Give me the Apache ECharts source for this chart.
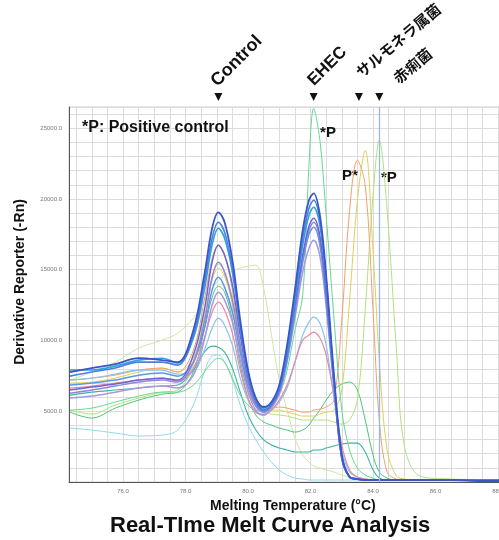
<!DOCTYPE html>
<html><head><meta charset="utf-8">
<script src="https://cdn.jsdelivr.net/npm/echarts@6/dist/echarts.min.js"></script>
<style>html,body{margin:0;padding:0;background:#fff}#c{width:499px;height:540px}</style>
</head><body><div id="c"></div>
<script>
// ---- data ----
const temps = [74.3, 75.0, 75.75, 76.5, 77.25, 77.75, 78.25, 78.6, 78.85, 79.05, 79.25, 79.5, 79.75, 80.0, 80.25, 80.5, 80.75, 81.0, 81.25, 81.5, 81.75, 81.95, 82.1, 82.3, 82.5, 82.75, 83.0, 83.25, 83.5, 83.75, 84.0, 84.2, 84.45, 84.75, 85.0, 85.5, 86.5, 87.5, 88.6];

const xTickValues = [76, 78, 80, 82, 84, 86, 88];
const xGridValues = [74.5, 75, 75.5, 76, 76.5, 77, 77.5, 78, 78.5, 79, 79.5, 80, 80.5, 81, 81.5, 82, 82.5, 83, 83.5, 84, 84.5, 85, 85.5, 86, 86.5, 87, 87.5, 88, 88.5];
const yTickValues = [5000, 10000, 15000, 20000, 25000];

const b1 = [7770, 8050, 8330, 8750, 8610, 8470, 10730, 14610, 17930, 19060, 18360, 15670, 11440, 7910, 5930, 5300, 5650, 6850, 9670, 13560, 17790, 19910, 20400, 18850, 14610, 7550, 1910, 350, 210, 140, 140, 140, 140, 140, 140, 140, 140, 70, 70];
const b2 = [7480, 7770, 8050, 8470, 8470, 8260, 10380, 14050, 17230, 18360, 17650, 15110, 11080, 7770, 5790, 5080, 5440, 6640, 9320, 13130, 17230, 19340, 19910, 18500, 14260, 7340, 1840, 350, 210, 140, 140, 140, 140, 140, 140, 140, 140, 140, 140];
const b3 = [7910, 7910, 8190, 8610, 8750, 8400, 10170, 13560, 16730, 17930, 17230, 14830, 10870, 7620, 5790, 5220, 5580, 6640, 9180, 12850, 16730, 18850, 19420, 18140, 14050, 7200, 1840, 350, 210, 140, 140, 140, 140, 140, 140, 140, 140, 140, 140];
const b4 = [6500, 6710, 6920, 7200, 7340, 7200, 8970, 12140, 15530, 16730, 16030, 13910, 10380, 7340, 5650, 5080, 5440, 6500, 8970, 12500, 16030, 18070, 18640, 17370, 13410, 7060, 1690, 350, 210, 140, 140, 140, 140, 140, 140, 140, 140, 140, 140];
const b5 = [6280, 6500, 6780, 7060, 7200, 7060, 8470, 11300, 14470, 15530, 14830, 12850, 9670, 6990, 5440, 4940, 5370, 6500, 8970, 12280, 15810, 17790, 18360, 17090, 13130, 6920, 1690, 350, 210, 140, 140, 140, 140, 140, 140, 140, 140, 140, 140];
const b6 = [6850, 6990, 7200, 7550, 7700, 7480, 8470, 10870, 13560, 14470, 13770, 12000, 9180, 6780, 5370, 4940, 5370, 6350, 8610, 12000, 15530, 17510, 18000, 16730, 12850, 6780, 1690, 350, 210, 140, 140, 140, 140, 140, 140, 140, 140, 140, 140];
const b7 = [5930, 6070, 6350, 6640, 6780, 6640, 7550, 10030, 12500, 13410, 12850, 11300, 8610, 6350, 5080, 4730, 5220, 6210, 8470, 11580, 14830, 16520, 17090, 15960, 12430, 6640, 1690, 350, 210, 140, 140, 140, 140, 140, 140, 140, 140, 140, 140];
const pink = [6640, 6780, 6990, 7200, 7340, 7130, 8050, 10170, 12000, 12710, 12140, 10520, 7910, 5930, 4940, 4730, 5080, 5790, 6850, 8470, 10030, 10380, 10590, 10170, 8970, 6140, 2610, 850, 350, 210, 140, 140, 140, 140, 140, 140, 140, 140, 140];
const lightBlue = [7200, 7340, 7620, 7910, 7910, 7620, 7770, 9320, 10870, 11580, 11080, 9670, 7340, 5790, 4940, 4800, 5080, 5650, 6640, 8470, 10380, 11300, 11650, 11230, 9670, 5930, 2260, 710, 350, 210, 140, 140, 140, 140, 140, 140, 140, 140, 140];
const orange = [7200, 7340, 7550, 7910, 8050, 7770, 9320, 12850, 15810, 16730, 16030, 13560, 9670, 6500, 5440, 5220, 5220, 5300, 5220, 5080, 4940, 4940, 5080, 5150, 5300, 5790, 11440, 19200, 22730, 20970, 12140, 4380, 710, 210, 140, 140, 140, 140, 140];
const yellow = [6990, 7060, 7340, 7770, 8050, 7770, 8750, 11580, 14260, 15110, 14540, 12500, 9180, 6350, 5370, 5080, 5080, 5080, 4940, 4800, 4660, 4660, 4660, 4800, 4940, 5080, 6500, 12850, 19910, 23440, 16380, 8610, 2260, 420, 210, 140, 140, 140, 140];
const greenTall = [5080, 5220, 5650, 6070, 6350, 6350, 6850, 7770, 8470, 8750, 8470, 7340, 6140, 5440, 5080, 5080, 5440, 6140, 7910, 10730, 13200, 22380, 26400, 24150, 18850, 11580, 5080, 2260, 990, 490, 280, 140, 140, 140, 140, 140, 140, 140, 140];
const hump = [7200, 7770, 8470, 9460, 10030, 10520, 11580, 12850, 13700, 14260, 14610, 14900, 15110, 15250, 15320, 13700, 10380, 7200, 5080, 3110, 1910, 1410, 1130, 990, 850, 710, 490, 350, 280, 210, 140, 140, 140, 140, 140, 140, 140, 140, 140];
const greenShig = [5080, 4800, 5440, 5930, 6350, 6500, 8260, 11580, 14400, 15390, 14830, 12710, 9320, 6640, 5440, 4940, 4800, 4730, 4660, 4520, 4380, 4380, 4380, 4380, 4380, 4240, 4090, 4380, 5790, 12140, 20260, 24150, 19200, 9320, 2610, 420, 210, 140, 140];
const greenMid = [4940, 4520, 5220, 5790, 6210, 6350, 7770, 10730, 13060, 13840, 13410, 11440, 8260, 5930, 4730, 4240, 4020, 3810, 3670, 3530, 3670, 4020, 4520, 5080, 5790, 6500, 6920, 7060, 6500, 4380, 1910, 710, 280, 140, 140, 140, 140, 140, 140];
const teal = [6140, 6350, 6500, 6640, 6780, 6850, 7910, 9180, 9600, 9530, 9180, 8050, 6350, 4730, 3670, 2970, 2610, 2400, 2260, 2120, 2120, 2120, 2260, 2260, 2400, 2540, 2680, 2750, 2750, 2120, 850, 280, 140, 140, 140, 140, 140, 140, 140];
const cyan = [3810, 3670, 3460, 3250, 3320, 3670, 5440, 7770, 8900, 8970, 8470, 7200, 5440, 4020, 2970, 2120, 1410, 850, 490, 280, 210, 140, 140, 140, 140, 140, 140, 140, 140, 140, 140, 140, 140, 140, 140, 140, 140, 140, 140];

// annotations
const markerNames = ['Control', 'EHEC', 'サルモネラ属菌', '赤痢菌'];
const markerTemps = [79.05, 82.1, 83.55, 84.2];
const pLabelTexts = ['*P', 'P*', '*P'];
const pLabelTemps = [82.56, 83.26, 84.51];
const pLabelValues = [24640, 21600, 21460];

// ---- layout / style ----
const X_MIN = 74.27, X_MAX = 88.6, Y_MAX = 26500;
const FONT = '"Liberation Sans", Arial, sans-serif';
const JFONT = '"Noto Sans CJK JP", sans-serif';
const labelLayout = [ // dx, dy from marker/top, rotation deg, font
  [2, -17, 45, 'bold 18px ' + FONT],
  [3, -18, 45, 'bold 17px ' + FONT],
  [4, -27, 40, 'bold 15px ' + JFONT],
  [21, -21, 40, 'bold 15px ' + JFONT]
];

const seriesDefs = [
  ['hump', hump, '#cfe6a2', 1],
  ['cyan', cyan, '#8fdaec', 1],
  ['teal', teal, '#3cb4a4', 1.1],
  ['greenMid', greenMid, '#4cc47a', 1],
  ['greenShig', greenShig, '#b2e27e', 1],
  ['yellow', yellow, '#dcd05a', 1],
  ['orange', orange, '#f2a06a', 1],
  ['greenTall', greenTall, '#66d890', 1],
  ['lightBlue', lightBlue, '#86c4ee', 1.2],
  ['pink', pink, '#e48aa6', 1.2],
  ['b7', b7, '#a898e0', 1.5],
  ['b6', b6, '#5c96e6', 1.5],
  ['b5', b5, '#9484dc', 1.5],
  ['b4', b4, '#6a66d0', 1.5],
  ['b3', b3, '#2aa6dc', 1.6],
  ['b2', b2, '#4e7ee0', 1.6],
  ['b1', b1, '#3a56c8', 1.8]
];

const series = seriesDefs.map(([name, vals, color, w]) => ({
  name, type: 'line', smooth: 0.35, symbol: 'none',
  lineStyle: { color, width: w }, itemStyle: { color },
  data: temps.map((t, i) => [t, vals[i]]),
  silent: true
}));
// vertical reference line at Shigella temperature
series.push({
  type: 'line', data: [], silent: true,
  markLine: { silent: true, symbol: 'none', label: { show: false },
    lineStyle: { color: '#9bb8ec', width: 1.3, type: 'solid' },
    data: [{ xAxis: markerTemps[3] }] }
});

const option = {
  animation: false,
  backgroundColor: '#fff',
  title: {
    text: 'Real-TIme Melt Curve Analysis', left: 110, top: 515, padding: 0,
    textStyle: { fontSize: 22, fontWeight: 'bold', color: '#111', fontFamily: FONT }
  },
  grid: { left: 69, top: 107, width: 447.75, height: 375, show: true, borderColor: '#cfcfcf', borderWidth: 1,
    outerBoundsMode: 'none', containLabel: false },
  xAxis: {
    type: 'value', min: X_MIN, max: X_MAX,
    name: 'Melting Temperature (°C)', nameLocation: 'middle', nameGap: 16,
    nameTextStyle: { fontSize: 14, fontWeight: 'bold', color: '#111', fontFamily: FONT },
    axisLine: { show: true, onZero: false, lineStyle: { color: '#555', width: 1 } },
    axisTick: { show: false, customValues: xGridValues },
    axisLabel: { customValues: xTickValues, formatter: v => v.toFixed(1), fontSize: 6, color: '#777', margin: 6, fontFamily: FONT },
    splitLine: { show: true, lineStyle: { color: '#dcdcdc', width: 1 } }
  },
  yAxis: {
    type: 'value', min: 0, max: Y_MAX, interval: 1000,
    name: 'Derivative Reporter (-Rn)', nameLocation: 'middle', nameGap: 42,
    nameTextStyle: { fontSize: 14, fontWeight: 'bold', color: '#111', fontFamily: FONT, padding: [0, 0, 0, 25] },
    axisLine: { show: true, lineStyle: { color: '#555', width: 1 } },
    axisTick: { show: false },
    axisLabel: { formatter: v => (yTickValues.indexOf(v) >= 0 ? v.toFixed(1) : ''), fontSize: 6, color: '#777', margin: 7, fontFamily: FONT },
    splitLine: { show: true, lineStyle: { color: '#dcdcdc', width: 1 } }
  },
  series
};

const chart = echarts.init(document.getElementById('c'), null, { renderer: 'canvas' });
chart.setOption(option);

// annotations positioned from data coordinates
const graphics = [];
const topY = chart.convertToPixel({ gridIndex: 0 }, [X_MIN, Y_MAX])[1];
markerTemps.forEach((t, i) => {
  const x = chart.convertToPixel({ gridIndex: 0 }, [t, Y_MAX])[0];
  graphics.push({ type: 'polygon', silent: true,
    shape: { points: [[x - 4, topY - 14], [x + 4, topY - 14], [x, topY - 6]] },
    style: { fill: '#111' } });
  const [dx, dy, rot, font] = labelLayout[i];
  graphics.push({ type: 'text', silent: true, x: x + dx, y: topY + dy, rotation: rot * Math.PI / 180,
    style: { text: markerNames[i], font, fill: '#111', textAlign: 'left', textVerticalAlign: 'bottom' } });
});
pLabelTexts.forEach((s, i) => {
  const [x, y] = chart.convertToPixel({ gridIndex: 0 }, [pLabelTemps[i], pLabelValues[i]]);
  graphics.push({ type: 'text', silent: true, x, y,
    style: { text: s, font: 'bold 15px ' + FONT, fill: '#111', textAlign: 'center', textVerticalAlign: 'middle' } });
});
graphics.push({ type: 'text', silent: true, x: 82, y: 128,
  style: { text: '*P: Positive control', font: 'bold 16px ' + FONT, fill: '#111', textAlign: 'left', textVerticalAlign: 'middle' } });
chart.setOption({ graphic: graphics });
</script></body></html>
